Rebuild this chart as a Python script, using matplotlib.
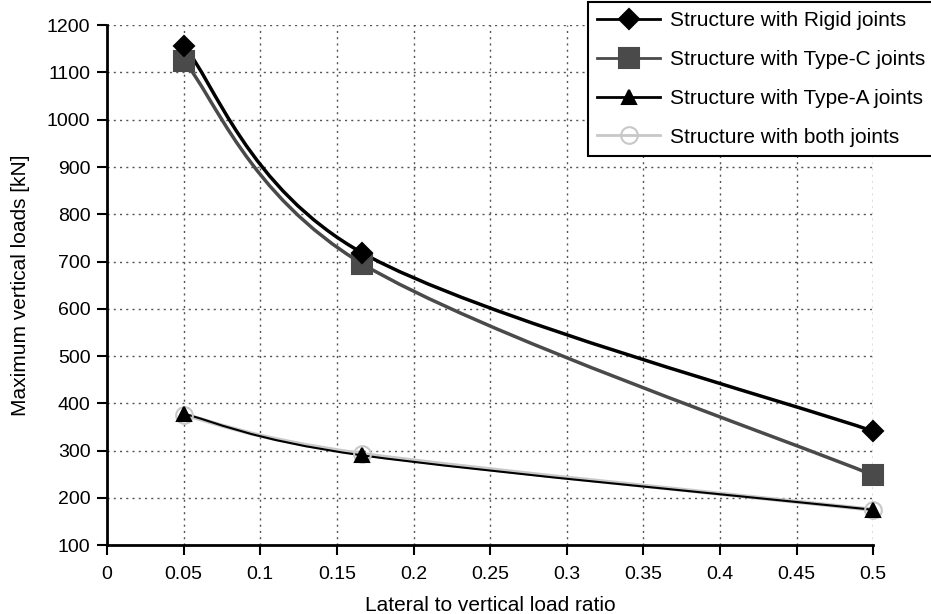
import numpy as np
import matplotlib.pyplot as plt
from matplotlib.path import Path
from matplotlib.patches import PathPatch
from matplotlib.lines import Line2D

plt.rcParams['font.family'] = ['Liberation Sans', 'DejaVu Sans']

# data
ratio = [0.05, 1 / 6, 0.5]
rigid = [1157, 718, 341]
type_c = [1125, 695, 248]
type_a = [378, 290, 175]
both = [376, 293, 175]

x_ticks = [0, 0.05, 0.1, 0.15, 0.2, 0.25, 0.3, 0.35, 0.4, 0.45, 0.5]
x_labels = ['0', '0.05', '0.1', '0.15', '0.2', '0.25', '0.3', '0.35', '0.4', '0.45', '0.5']
y_ticks = list(range(100, 1201, 100))


def smooth_path(xs, ys):
    # excel-style smoothed line: cubic bezier through every point
    pts = np.column_stack([xs, ys]).astype(float)
    n = len(pts)
    verts = [pts[0]]
    codes = [Path.MOVETO]
    for i in range(n - 1):
        p0 = pts[i - 1] if i > 0 else pts[i]
        p1 = pts[i]
        p2 = pts[i + 1]
        p3 = pts[i + 2] if i + 2 < n else pts[i + 1]
        c1 = p1 + (p2 - p0) / 6
        c2 = p2 - (p3 - p1) / 6
        verts += [c1, c2, p2]
        codes += [Path.CURVE4] * 3
    return Path(verts, codes)


fig = plt.figure(figsize=(9.31, 6.14), dpi=100)
ax = fig.add_axes([0.115, 0.112, 0.823, 0.847])

series = [
    (both, '#c8c8c8', 3.0, 'o', 'none', '#c8c8c8', 12, 'Structure with both joints'),
    (type_a, 'black', 1.5, '^', 'black', 'black', 10, 'Structure with Type-A joints'),
    (type_c, '#4a4a4a', 2.5, 's', '#4a4a4a', '#4a4a4a', 15, 'Structure with Type-C joints'),
    (rigid, 'black', 2.5, 'D', 'black', 'black', 10, 'Structure with Rigid joints'),
]

handles = {}
for vals, col, lw, mk, mfc, mec, ms, lab in series:
    ax.add_patch(PathPatch(smooth_path(ratio, vals), facecolor='none',
                           edgecolor=col, lw=lw, zorder=3))
    ax.plot(ratio, vals, linestyle='none', marker=mk, markersize=ms,
            markerfacecolor=mfc, markeredgecolor=mec, markeredgewidth=1.5,
            zorder=4, clip_on=False)
    handles[lab] = Line2D([], [], color=col, lw=2, marker=mk, markersize=ms,
                          markerfacecolor=mfc, markeredgecolor=mec, markeredgewidth=1.5)

ax.set_xlim(0, 0.5)
ax.set_ylim(100, 1200)
ax.set_xticks(x_ticks)
ax.set_xticklabels(x_labels)
ax.set_yticks(y_ticks)
ax.tick_params(labelsize=14, direction='out', length=7, width=1.5, pad=5)
ax.tick_params(axis='x', pad=8)
ax.grid(True, linestyle=(0, (1.5, 3)), color='#555555', lw=1)
for s in ['top', 'right']:
    ax.spines[s].set_visible(False)
for s in ['left', 'bottom']:
    ax.spines[s].set_linewidth(2)
ax.set_xlabel('Lateral to vertical load ratio', fontsize=15, labelpad=9)
ax.set_ylabel('Maximum vertical loads [kN]', fontsize=15, labelpad=12)

order = ['Structure with Rigid joints', 'Structure with Type-C joints',
         'Structure with Type-A joints', 'Structure with both joints']
leg = fig.legend([handles[k] for k in order], order, loc='upper left',
                 bbox_to_anchor=(588 / 931, 0.997), fontsize=15, frameon=True,
                 fancybox=False, edgecolor='black', framealpha=1,
                 borderaxespad=0, borderpad=0.45, handlelength=3,
                 handletextpad=0.5, labelspacing=0.95)
leg.get_frame().set_linewidth(1.5)

plt.savefig('out.png', dpi=100)
